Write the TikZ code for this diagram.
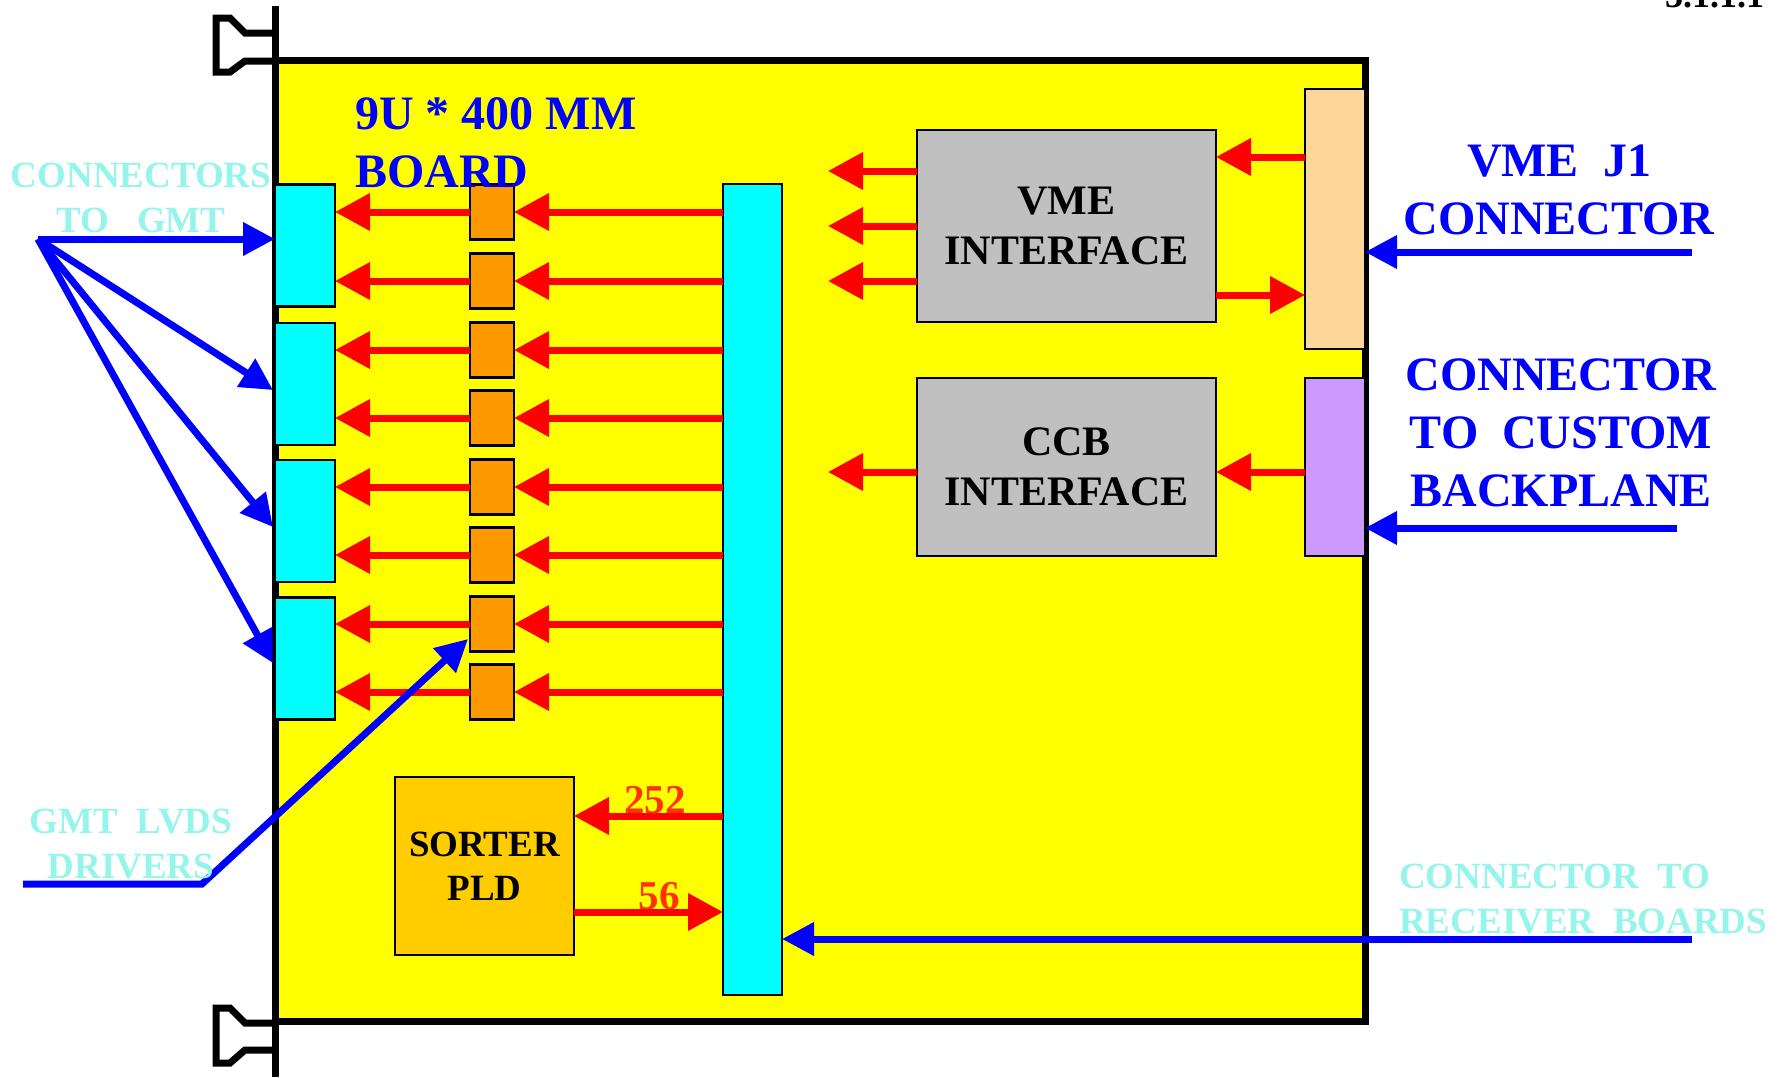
\documentclass[tikz,border=0pt]{standalone}
\usepackage{fontspec}
\setmainfont{Liberation Serif}
\usetikzlibrary{arrows.meta}
\definecolor{bdyellow}{RGB}{255,255,0}
\definecolor{bdcyan}{RGB}{0,255,255}
\definecolor{bdorange}{RGB}{255,153,0}
\definecolor{bdsorter}{RGB}{255,204,0}
\definecolor{bdgrey}{RGB}{192,192,192}
\definecolor{bdpeach}{RGB}{255,214,153}
\definecolor{bdpurple}{RGB}{204,153,255}
\definecolor{bdblue}{RGB}{0,0,255}
\definecolor{bdred}{RGB}{255,0,0}
\definecolor{bdlabel}{RGB}{255,51,0}
\definecolor{bdpale}{RGB}{150,245,235}
\begin{document}
\begin{tikzpicture}[x=1pt,y=-1pt,
  blk/.style={draw=black, line width=2.5pt, inner sep=0pt, outer sep=0pt, font=\bfseries},
  redarrow/.style={draw=bdred, line width=7pt, -{Triangle[length=35pt,width=36pt]}},
  bluearrow/.style={draw=bdblue, line width=7pt, -{Triangle[length=32pt,width=32pt]}},
  bluetext/.style={text=bdblue, font=\fontsize{48}{58}\selectfont\bfseries, inner sep=0pt},
  paletext/.style={text=bdpale, font=\fontsize{37}{45}\selectfont\bfseries, inner sep=0pt},
  redlabel/.style={text=bdlabel, font=\fontsize{41}{48}\selectfont\bfseries, inner sep=0pt},
  handle/.style={draw=black, line width=7pt}]
\useasboundingbox (0,0) rectangle (1783,1077);

% board
\node[draw=black, fill=bdyellow, line width=7pt, inner sep=0pt, minimum width=1090pt, minimum height=961pt] (board) at (820,540.5) {};
% front panel bar and handles
\draw[handle] (275,6) -- (275,1077);
\draw[handle, line join=miter] (275,33) -- (245,33) -- (230,18) -- (216,18) -- (216,72) -- (230,72) -- (245,61) -- (275,61);
\draw[handle, line join=miter] (275,1050) -- (245,1050) -- (230,1063) -- (216,1063) -- (216,1008) -- (230,1008) -- (245,1023) -- (275,1023);

% top-right clipped text
\node[anchor=base west, font=\fontsize{36}{40}\selectfont\bfseries, inner sep=0pt] (sect) at (1665,7) {3.1.1.1};

% GMT connectors
\foreach \n/\y in {1/245.5, 2/384, 3/521, 4/658.5}
  \node[blk, fill=bdcyan, minimum width=60pt, minimum height=122pt] (c\n) at (305,\y) {};
% bus
\node[blk, fill=bdcyan, minimum width=59pt, minimum height=811pt] (bus) at (752.5,589.5) {};
% LVDS drivers and arrows
\foreach \n/\y/\c in {1/212/1, 2/281/1, 3/350/2, 4/418/2, 5/487/3, 6/555/3, 7/624/4, 8/692/4} {
  \node[blk, fill=bdorange, minimum width=44pt, minimum height=55pt] (o\n) at (492,\y) {};
  \draw[redarrow] (bus.west |- o\n) -- (o\n.east);
  \draw[redarrow] (o\n.west) -- (o\n.west -| c\c.east);
}

% interfaces
\node[blk, fill=bdgrey, minimum width=299pt, minimum height=192pt, align=center, font=\fontsize{42}{50}\selectfont\bfseries] (vme) at (1066.5,226) {VME\\INTERFACE};
\node[blk, fill=bdgrey, minimum width=299pt, minimum height=178pt, align=center, font=\fontsize{42}{50}\selectfont\bfseries] (ccb) at (1066.5,467) {CCB\\INTERFACE};
\node[blk, fill=bdpeach, minimum width=60pt, minimum height=260pt] (peach) at (1335,219) {};
\node[blk, fill=bdpurple, minimum width=60pt, minimum height=178pt] (purple) at (1335,467) {};
\node[blk, fill=bdsorter, minimum width=179pt, minimum height=178pt, align=center, font=\fontsize{37}{44}\selectfont\bfseries] (sorter) at (484.5,866) {SORTER\\PLD};

\foreach \y in {171,226,281} {
  \coordinate (vo\y) at (828,\y);
  \draw[redarrow] (vme.west |- vo\y) -- (vo\y);
}
\coordinate (pv) at (0,157);
\draw[redarrow] (peach.west |- pv) -- (vme.east |- pv);
\coordinate (vp) at (0,295);
\draw[redarrow] (vme.east |- vp) -- (peach.west |- vp);
\coordinate (co) at (828,472);
\draw[redarrow] (ccb.west |- co) -- (co);
\draw[redarrow] (purple.west |- co) -- (ccb.east |- co);

\coordinate (s1) at (0,816);
\draw[redarrow] (bus.west |- s1) -- (sorter.east |- s1);
\coordinate (s2) at (0,912);
\draw[redarrow] (sorter.east |- s2) -- (bus.west |- s2);
\node[redlabel] (l252) at (655,800) {252};
\node[redlabel] (l56) at (659,896) {56};

% blue connectors on the right
\coordinate (rb) at (1692,939);
\draw[bluearrow] (rb) -- (bus.east |- rb);
\coordinate (j1) at (1692,252);
\draw[bluearrow] (j1) -- (peach.east |- j1);
\coordinate (cb) at (1677,528);
\draw[bluearrow] (cb) -- (purple.east |- cb);

% blue fan to GMT connectors
\coordinate (g) at (38,239);
\draw[bluearrow] (g) -- (c1.west |- g);
\draw[bluearrow] (g) -- (273,390);
\draw[bluearrow] (g) -- (273,527);
\draw[bluearrow] (g) -- (273,663);
% LVDS pointer
\coordinate (lv0) at (23,884);
\coordinate (lv1) at (202,884);
\coordinate (lvt) at (468,639);
\draw[bluearrow, line join=miter] (lv0) -- (lv1) -- (lvt);

% texts
\node[bluetext, anchor=west, align=left] (title) at (355,143) {9U * 400 MM\\BOARD};
\node[bluetext, align=center] (vmej1) at (1559,190) {VME\ \ J1\\CONNECTOR};
\node[bluetext, align=center] (cust) at (1561,433) {CONNECTOR\\TO\ \ CUSTOM\\BACKPLANE};
\node[paletext, align=center] (tgmt) at (141,198) {CONNECTORS\\TO\ \ \ GMT\hspace{12pt}};
\node[paletext, align=center] (tlvds) at (131,844) {GMT\ \ LVDS\\DRIVERS};
\node[paletext, anchor=west, align=left] (trecv) at (1399,899) {CONNECTOR\ \ TO\\RECEIVER\ \ BOARDS};
\end{tikzpicture}
\end{document}
